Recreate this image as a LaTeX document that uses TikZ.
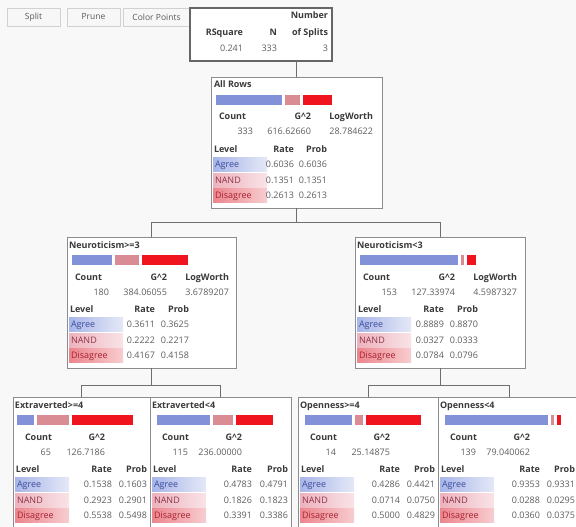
\documentclass[tikz,border=0pt]{standalone}
\usepackage{fontspec}
\setmainfont{Open Sans}
\usetikzlibrary{calc}

\definecolor{pagebg}{HTML}{F8F8F8}
\definecolor{frame}{HTML}{8C8C8C}
\definecolor{wire}{HTML}{6E6E6E}
\definecolor{ink}{HTML}{3A3A3A}
\definecolor{numink}{HTML}{5E5E5E}
\definecolor{agreebar}{HTML}{8291D8}
\definecolor{nandbar}{HTML}{D98C93}
\definecolor{disbar}{HTML}{F0141E}
\definecolor{agreeL}{HTML}{A8B5E8}
\definecolor{agreeR}{HTML}{E4E8F7}
\definecolor{nandL}{HTML}{EDB2BD}
\definecolor{nandR}{HTML}{F9E3E7}
\definecolor{disL}{HTML}{EC858D}
\definecolor{disR}{HTML}{F7CDD0}
\definecolor{agreeTxt}{HTML}{3C4C9C}
\definecolor{nandTxt}{HTML}{8E3446}
\definecolor{disTxt}{HTML}{A8222E}

\tikzset{
  x=1pt, y=-1pt,
  every node/.style={inner sep=0pt, outer sep=0pt},
  txt/.style={font=\fontsize{9}{10.8}\selectfont, text=numink},
  hd/.style={font=\fontsize{9}{10.8}\selectfont\bfseries, text=ink},
  treebox/.style={draw=frame, line width=0.9pt, fill=white, anchor=north west},
  btn/.style={draw=black!18, fill=black!3, text=black!65,
    font=\fontsize{8.5}{10}\selectfont, minimum height=18pt},
  wirel/.style={draw=wire, line width=0.9pt},
}

% three-part response bar: left x, top y, shares of Agree / NAND / Disagree
\newcommand\ratebar[5]{%
  \pgfmathsetmacro\wA{#3*110}%
  \pgfmathsetmacro\wN{#4*110}%
  \pgfmathsetmacro\wD{#5*110}%
  \fill[agreebar] (#1,#2) rectangle ++(\wA,10);
  \fill[nandbar] ({#1+\wA+3},#2) rectangle ++(\wN,10);
  \fill[disbar] ({#1+\wA+\wN+6},#2) rectangle ++(\wD,10);
}

% Count / G^2 / LogWorth block of a wide node: prefix, left, top, values
\newcommand\wideStats[6]{%
  \node[hd, anchor=base west] (#1c) at ({#2+8},{#3+43}) {Count};
  \node[hd, anchor=base east] (#1g) at ({#2+100},{#3+43}) {G\textasciicircum 2};
  \node[hd, anchor=base east] (#1w) at ({#2+162},{#3+43}) {LogWorth};
  \node[txt, anchor=base east] (#1cv) at ({#2+42},{#3+58}) {#4};
  \node[txt, anchor=base east] (#1gv) at ({#2+100},{#3+58}) {#5};
  \node[txt, anchor=base east] (#1wv) at ({#2+162},{#3+58}) {#6};
}

% Count / G^2 block of a leaf node: prefix, left, top, values
\newcommand\leafStats[5]{%
  \node[hd, anchor=base west] (#1c) at ({#2+12},{#3+43}) {Count};
  \node[hd, anchor=base east] (#1g) at ({#2+92},{#3+43}) {G\textasciicircum 2};
  \node[txt, anchor=base east] (#1cv) at ({#2+38},{#3+58}) {#4};
  \node[txt, anchor=base east] (#1gv) at ({#2+92},{#3+58}) {#5};
}

% Level / Rate / Prob table: prefix, left, header centre y, rate right, prob right, rows
\newcommand\levtable[6]{%
  \node[hd, anchor=base west] (#1lv) at ({#2+3},{#3+3}) {Level};
  \node[hd, anchor=base east] (#1rt) at (#4,{#3+3}) {Rate};
  \node[hd, anchor=base east] (#1pb) at (#5,{#3+3}) {Prob};
  \foreach \lab/\cl/\ra/\pr [count=\i] in {#6}{
    \pgfmathsetmacro\yy{#3+15.5*\i}
    \shade[left color=\cl L, right color=\cl R] ({#2+2},{\yy-7}) rectangle ({#2+56},{\yy+7});
    \node[txt, text=\cl Txt, anchor=base west] (#1l\i) at ({#2+4},{\yy+3}) {\lab};
    \node[txt, anchor=base east] (#1r\i) at (#4,{\yy+3}) {\ra};
    \node[txt, anchor=base east] (#1p\i) at (#5,{\yy+3}) {\pr};
  }
}

\begin{document}
\begin{tikzpicture}
\useasboundingbox (0,0) rectangle (576,527);
\clip (0,0) rectangle (576,527);
\fill[pagebg] (0,0) rectangle (576,527);

% toolbar buttons
\node[btn, minimum width=53pt] (bsplit) at (33.5,17) {Split};
\node[btn, minimum width=53pt] (bprune) at (93.5,17) {Prune};
\node[btn, minimum width=67pt] (bcolor) at (156.5,17) {Color Points};

% summary of the fit
\node[treebox, line width=1.1pt, draw=black!60, minimum width=142pt, minimum height=53pt] (sum) at (190,8) {};
\node[hd, anchor=base east] (sumnum) at (328,19) {Number};
\node[hd, anchor=base east] (sumrsq) at (243,36) {RSquare};
\node[hd, anchor=base east] (sumn) at (277,36) {N};
\node[hd, anchor=base east] (sumsplits) at (328,36) {of Splits};
\node[txt, anchor=base east] (sumrsqv) at (243,52) {0.241};
\node[txt, anchor=base east] (sumnv) at (277,52) {333};
\node[txt, anchor=base east] (sumsplitsv) at (328,52) {3};

% tree nodes
\node[treebox, minimum width=171pt, minimum height=131pt] (root) at (211,77) {};
\node[treebox, minimum width=169pt, minimum height=131pt] (n1) at (67,237) {};
\node[treebox, minimum width=170pt, minimum height=131pt] (n2) at (355,237) {};
\node[treebox, minimum width=137pt, minimum height=140pt] (e1) at (13,397) {};
\node[treebox, minimum width=141pt, minimum height=140pt] (e2) at (150,397) {};
\node[treebox, minimum width=140pt, minimum height=140pt] (e3) at (298,397) {};
\node[treebox, minimum width=142pt, minimum height=140pt] (e4) at (438,397) {};

% connectors
\coordinate (sumtap) at (root.north |- sum.south);
\draw[wirel] (sumtap) -- (root.north);
\draw[wirel] (root.south) -- ++(0,14) -| (n1.north);
\draw[wirel] (root.south) -- ++(0,14) -| (n2.north);
\draw[wirel] (n1.south) -- ++(0,17) -| (e1.north);
\draw[wirel] (n1.south) -- ++(0,17) -| (e2.north);
\draw[wirel] (n2.south) -- ++(0,17) -| (e3.north);
\draw[wirel] (n2.south) -- ++(0,17) -| (e4.north);

% All Rows
\node[hd, anchor=base west] (roott) at (214,88) {All Rows};
\ratebar{216}{95}{0.6036}{0.1351}{0.2613}
\wideStats{root}{211}{77}{333}{616.62660}{28.784622}
\levtable{root}{211}{149}{294}{327}{Agree/agree/0.6036/0.6036,NAND/nand/0.1351/0.1351,Disagree/dis/0.2613/0.2613}

% Neuroticism>=3
\node[hd, anchor=base west] (n1t) at (69,248) {Neuroticism>=3};
\ratebar{72}{255}{0.3611}{0.2222}{0.4167}
\wideStats{n1}{67}{237}{180}{384.06055}{3.6789207}
\levtable{n1}{67}{309}{155}{189}{Agree/agree/0.3611/0.3625,NAND/nand/0.2222/0.2217,Disagree/dis/0.4167/0.4158}

% Neuroticism<3
\node[hd, anchor=base west] (n2t) at (357,248) {Neuroticism<3};
\ratebar{360}{255}{0.8889}{0.0327}{0.0784}
\wideStats{n2}{355}{237}{153}{127.33974}{4.5987327}
\levtable{n2}{355}{309}{444}{478}{Agree/agree/0.8889/0.8870,NAND/nand/0.0327/0.0333,Disagree/dis/0.0784/0.0796}

% Extraverted>=4
\node[hd, anchor=base west] (e1t) at (15,408) {Extraverted>=4};
\ratebar{17}{415}{0.1538}{0.2923}{0.5538}
\leafStats{e1}{13}{397}{65}{126.7186}
\levtable{e1}{13}{469}{112}{147}{Agree/agree/0.1538/0.1603,NAND/nand/0.2923/0.2901,Disagree/dis/0.5538/0.5498}

% Extraverted<4
\node[hd, anchor=base west] (e2t) at (152,408) {Extraverted<4};
\ratebar{157}{415}{0.4783}{0.1826}{0.3391}
\leafStats{e2}{150}{397}{115}{236.00000}
\levtable{e2}{150}{469}{252}{288}{Agree/agree/0.4783/0.4791,NAND/nand/0.1826/0.1823,Disagree/dis/0.3391/0.3386}

% Openness>=4
\node[hd, anchor=base west] (e3t) at (300,408) {Openness>=4};
\ratebar{305}{415}{0.4286}{0.0714}{0.5000}
\leafStats{e3}{298}{397}{14}{25.14875}
\levtable{e3}{298}{469}{400}{435}{Agree/agree/0.4286/0.4421,NAND/nand/0.0714/0.0750,Disagree/dis/0.5000/0.4829}

% Openness<4
\node[hd, anchor=base west] (e4t) at (440,408) {Openness<4};
\ratebar{445}{415}{0.9353}{0.0288}{0.0360}
\leafStats{e4}{438}{397}{139}{79.040062}
\levtable{e4}{438}{469}{540}{575}{Agree/agree/0.9353/0.9331,NAND/nand/0.0288/0.0295,Disagree/dis/0.0360/0.0375}
\end{tikzpicture}
\end{document}
